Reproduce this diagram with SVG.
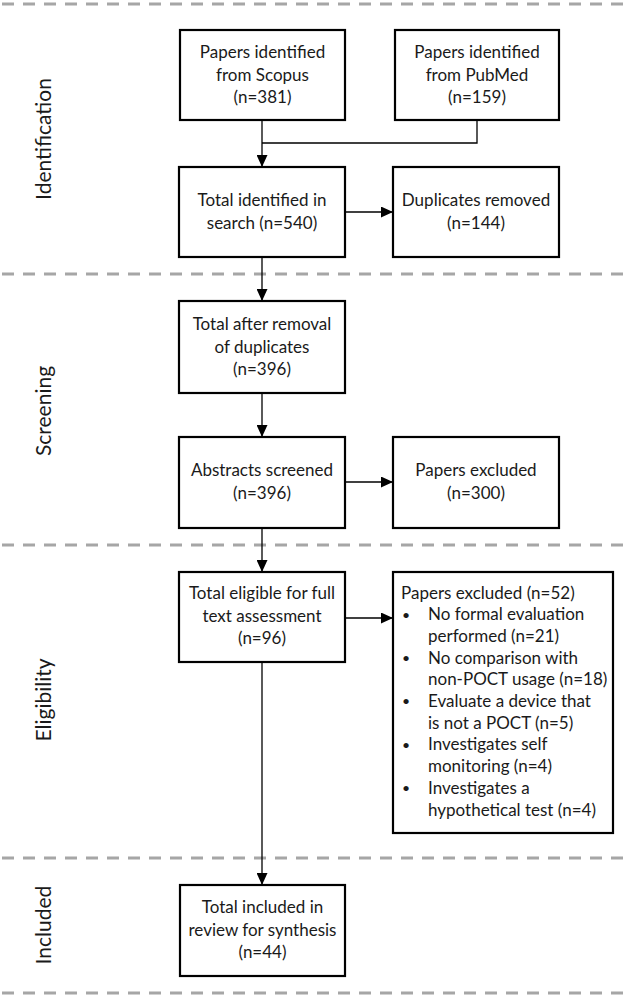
<svg xmlns="http://www.w3.org/2000/svg" width="629" height="996" viewBox="0 0 629 996">
<defs>
<style>
.box{fill:#fff;stroke:#000;stroke-width:2.2}
.t{font-family:Lato,"Liberation Sans",Arial,sans-serif;font-size:17px;fill:#1a1a1a}
.b{font-size:14px}
.c{text-anchor:middle}
.side{font-family:Lato,"Liberation Sans",Arial,sans-serif;font-size:21px;fill:#1a1a1a;text-anchor:middle}
.sep{stroke:#a6a6a6;stroke-width:3;stroke-dasharray:12 9}
.con{fill:none;stroke:#000;stroke-width:1.3}
</style>
<marker id="ah" markerUnits="userSpaceOnUse" markerWidth="12" markerHeight="11" refX="12" refY="5.5" orient="auto">
<path d="M0,0 L12,5.5 L0,11 z" fill="#000"/>
</marker>
</defs>
<rect width="629" height="996" fill="#fff"/>
<g id="separators">
<line class="sep" x1="2" y1="4" x2="629" y2="4"/>
<line class="sep" x1="2" y1="274" x2="629" y2="274"/>
<line class="sep" x1="2" y1="545" x2="629" y2="545"/>
<line class="sep" x1="2" y1="858" x2="629" y2="858"/>
<line class="sep" x1="2" y1="993" x2="629" y2="993"/>
</g>
<g id="phase-labels">
<text class="side" transform="translate(51,139) rotate(-90)">Identification</text>
<text class="side" transform="translate(51,411) rotate(-90)">Screening</text>
<text class="side" transform="translate(51,700) rotate(-90)">Eligibility</text>
<text class="side" transform="translate(51,925) rotate(-90)">Included</text>
</g>
<g id="connectors">
<path class="con" d="M262,120 V167" marker-end="url(#ah)"/>
<path class="con" d="M477,120 V143 H262"/>
<path class="con" d="M345,212 H393" marker-end="url(#ah)"/>
<path class="con" d="M262,257 V301" marker-end="url(#ah)"/>
<path class="con" d="M262,393 V437" marker-end="url(#ah)"/>
<path class="con" d="M345,482 H393" marker-end="url(#ah)"/>
<path class="con" d="M262,528 V572" marker-end="url(#ah)"/>
<path class="con" d="M345,618 H393" marker-end="url(#ah)"/>
<path class="con" d="M262,662 V885" marker-end="url(#ah)"/>
</g>
<g id="scopus">
<rect class="box" x="180" y="30" width="165" height="90"/>
<text class="t c" x="262.5" y="58">Papers identified</text>
<text class="t c" x="262.5" y="80.5">from Scopus</text>
<text class="t c" x="262.5" y="103">(n=381)</text>
</g>
<g id="pubmed">
<rect class="box" x="395" y="30" width="164" height="90"/>
<text class="t c" x="477" y="58">Papers identified</text>
<text class="t c" x="477" y="80.5">from PubMed</text>
<text class="t c" x="477" y="103">(n=159)</text>
</g>
<g id="identified">
<rect class="box" x="179" y="167" width="166" height="90"/>
<text class="t c" x="262" y="206">Total identified in</text>
<text class="t c" x="262" y="228.5">search (n=540)</text>
</g>
<g id="duplicates">
<rect class="box" x="393" y="167" width="166" height="90"/>
<text class="t c" x="476" y="206">Duplicates removed</text>
<text class="t c" x="476" y="228.5">(n=144)</text>
</g>
<g id="after-removal">
<rect class="box" x="179" y="301" width="166" height="92"/>
<text class="t c" x="262" y="330">Total after removal</text>
<text class="t c" x="262" y="352.5">of duplicates</text>
<text class="t c" x="262" y="375">(n=396)</text>
</g>
<g id="abstracts">
<rect class="box" x="179" y="437" width="166" height="91"/>
<text class="t c" x="262" y="476">Abstracts screened</text>
<text class="t c" x="262" y="498.5">(n=396)</text>
</g>
<g id="excluded-300">
<rect class="box" x="393" y="437" width="166" height="91"/>
<text class="t c" x="476" y="476">Papers excluded</text>
<text class="t c" x="476" y="498.5">(n=300)</text>
</g>
<g id="eligible">
<rect class="box" x="179" y="572" width="166" height="90"/>
<text class="t c" x="262" y="599">Total eligible for full</text>
<text class="t c" x="262" y="621.5">text assessment</text>
<text class="t c" x="262" y="644">(n=96)</text>
</g>
<g id="excluded-52">
<rect class="box" x="393" y="572" width="220" height="261"/>
<text class="t" x="401" y="598.5">Papers excluded (n=52)</text>
<text class="t b" x="402" y="619.5">•</text><text class="t" x="428" y="620.2">No formal evaluation</text>
<text class="t" x="428" y="641.9">performed (n=21)</text>
<text class="t b" x="402" y="662.9">•</text><text class="t" x="428" y="663.6">No comparison with</text>
<text class="t" x="428" y="685.3">non-POCT usage (n=18)</text>
<text class="t b" x="402" y="706.3">•</text><text class="t" x="428" y="707">Evaluate a device that</text>
<text class="t" x="428" y="728.7">is not a POCT (n=5)</text>
<text class="t b" x="402" y="749.7">•</text><text class="t" x="428" y="750.4">Investigates self</text>
<text class="t" x="428" y="772.1">monitoring (n=4)</text>
<text class="t b" x="402" y="793.1">•</text><text class="t" x="428" y="793.8">Investigates a</text>
<text class="t" x="428" y="815.5">hypothetical test (n=4)</text>
</g>
<g id="included">
<rect class="box" x="180" y="885" width="165" height="91"/>
<text class="t c" x="262.5" y="913">Total included in</text>
<text class="t c" x="262.5" y="935.5">review for synthesis</text>
<text class="t c" x="262.5" y="958">(n=44)</text>
</g>
</svg>
